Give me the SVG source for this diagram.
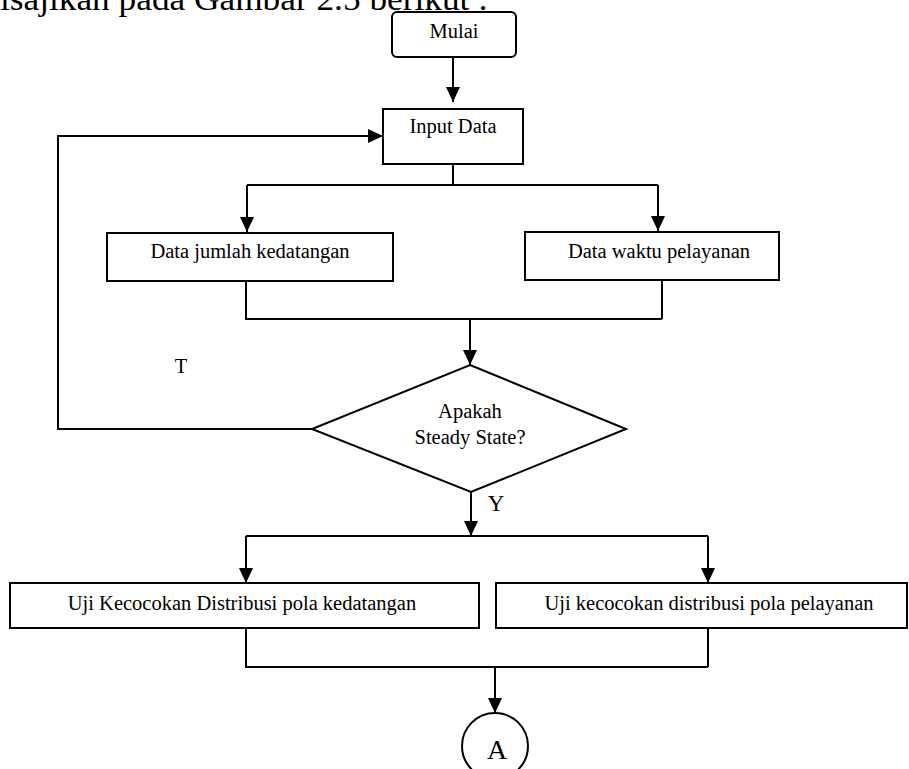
<svg xmlns="http://www.w3.org/2000/svg" width="909" height="769" viewBox="0 0 909 769">
<style>
  .box { fill: #fff; stroke: #000; stroke-width: 2; }
  .ln { fill: none; stroke: #000; stroke-width: 2; }
  .arr { fill: none; stroke: #000; stroke-width: 2; marker-end: url(#ah); }
  text { font-family: "Liberation Serif", "Times New Roman", serif; fill: #000; }
  .t { font-size: 20.5px; text-anchor: middle; }
</style>
<defs>
  <marker id="ah" viewBox="0 0 15 14" refX="15" refY="7" markerWidth="15" markerHeight="14" markerUnits="userSpaceOnUse" orient="auto">
    <path d="M0,0 L15,7 L0,14 z" fill="#000"/>
  </marker>
</defs>
<rect width="909" height="769" fill="#fff"/>
<text x="0" y="10" font-size="34" textLength="488" lengthAdjust="spacingAndGlyphs">isajikan pada Gambar 2.5 berikut :</text>

<g id="connectors">
  <path class="arr" d="M453,57 V102"/>
  <path class="ln" d="M453,164 V185 M247,185 H658"/>
  <path class="arr" d="M247,185 V232"/>
  <path class="arr" d="M658,185 V231"/>
  <path class="ln" d="M246,281 V319 H662 M662,278 V319"/>
  <path class="arr" d="M470,319 V365"/>
  <path class="arr" d="M312,429 H58 V136 H383"/>
  <path class="arr" d="M471,492 V536"/>
  <path class="ln" d="M246,536 H708"/>
  <path class="arr" d="M246,536 V583"/>
  <path class="arr" d="M708,536 V583"/>
  <path class="ln" d="M246,628 V667 H708 M708,626 V667"/>
  <path class="arr" d="M495,667 V713"/>
</g>

<g id="mulai">
  <rect class="box" x="392" y="12" width="124" height="45" rx="5"/>
  <text class="t" x="454" y="38">Mulai</text>
</g>
<g id="input-data">
  <rect class="box" x="383" y="109" width="140" height="55"/>
  <text class="t" x="453" y="133">Input Data</text>
</g>
<g id="data-jumlah-kedatangan">
  <rect class="box" x="107" y="233" width="286" height="48"/>
  <text class="t" x="250" y="258">Data jumlah kedatangan</text>
</g>
<g id="data-waktu-pelayanan">
  <rect class="box" x="525" y="232" width="254" height="48"/>
  <text class="t" x="659" y="258">Data waktu pelayanan</text>
</g>
<g id="steady-state">
  <polygon class="box" points="470,365 626,429 471,492 312,429"/>
  <text class="t" x="470" y="418">Apakah</text>
  <text class="t" x="470" y="444">Steady State?</text>
</g>
<g id="label-t">
  <text class="t" x="181" y="373">T</text>
</g>
<g id="label-y">
  <text x="496" y="511" font-size="23" text-anchor="middle">Y</text>
</g>
<g id="uji-kedatangan">
  <rect class="box" x="10" y="583" width="469" height="45"/>
  <text class="t" x="242" y="610">Uji Kecocokan Distribusi pola kedatangan</text>
</g>
<g id="uji-pelayanan">
  <rect class="box" x="496" y="583" width="411" height="45"/>
  <text class="t" x="709" y="610">Uji kecocokan distribusi pola pelayanan</text>
</g>
<g id="connector-a">
  <circle class="box" cx="495" cy="746" r="33"/>
  <text x="497" y="759" font-size="28" text-anchor="middle">A</text>
</g>
</svg>
